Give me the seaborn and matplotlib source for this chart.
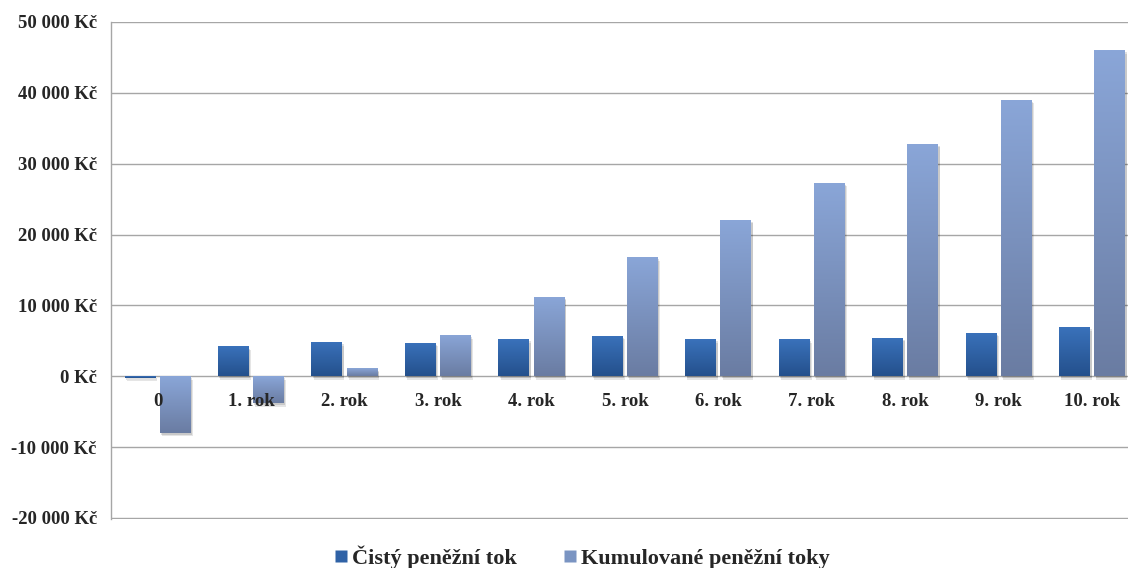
import numpy as np
import pandas as pd
import matplotlib
matplotlib.use("Agg")
import matplotlib.pyplot as plt
import matplotlib.patheffects as pe
from matplotlib.colors import LinearSegmentedColormap
from matplotlib.lines import Line2D
import seaborn as sns

# Data
years = ["0", "1. rok", "2. rok", "3. rok", "4. rok", "5. rok",
         "6. rok", "7. rok", "8. rok", "9. rok", "10. rok"]
net_flow = [-200, 4200, 4800, 4700, 5200, 5700, 5200, 5200, 5400, 6100, 6900]
cumulative = [-8000, -3800, 1100, 5800, 11200, 16800, 22100, 27300, 32800, 39000, 46000]
series_names = ["Čistý peněžní tok", "Kumulované peněžní toky"]
y_ticks = [-20000, -10000, 0, 10000, 20000, 30000, 40000, 50000]

df = pd.DataFrame({
    "rok": years * 2,
    "hodnota": net_flow + cumulative,
    "serie": [series_names[0]] * len(years) + [series_names[1]] * len(years),
})

sns.set_theme(style="white")
plt.rcParams["font.family"] = ["Liberation Serif", "DejaVu Serif"]
plt.rcParams["font.weight"] = "bold"

fig = plt.figure(figsize=(11.28, 5.68), dpi=100)
ax = fig.add_axes([110.75 / 1128, 1 - 519 / 568, (1139 - 110.75) / 1128, (519 - 22) / 568])

mid_colors = {series_names[0]: "#2f62a6", series_names[1]: "#7a94c2"}
sns.barplot(data=df, x="rok", y="hodnota", hue="serie", order=years,
            hue_order=series_names, palette=mid_colors, width=0.75, gap=0.12,
            legend=False, ax=ax, zorder=2)

# Vertical gradients (light at top, dark at bottom) for each series
gradients = [
    LinearSegmentedColormap.from_list("g0", ["#24508c", "#3a72bb"]),
    LinearSegmentedColormap.from_list("g1", ["#6a7ca2", "#8aa6d8"]),
]
grad = np.linspace(0, 1, 256).reshape(-1, 1)
for cont, cmap in zip(ax.containers, gradients):
    for bar in cont:
        x0, y0 = bar.get_x(), bar.get_y()
        w, h = bar.get_width(), bar.get_height()
        ylo, yhi = min(y0, y0 + h), max(y0, y0 + h)
        bar.set_facecolor("none")
        bar.set_edgecolor("none")
        bar.set_path_effects([
            pe.SimplePatchShadow(offset=(1.5, -2.5), shadow_rgbFace="#000000", alpha=0.10),
            pe.SimplePatchShadow(offset=(1.0, -1.5), shadow_rgbFace="#000000", alpha=0.12),
        ])
        im = ax.imshow(grad, extent=[x0, x0 + w, ylo, yhi], origin="lower",
                       cmap=cmap, aspect="auto", zorder=3, interpolation="bilinear")
        im.set_clip_path(bar)

ax.set_xlim(-0.5, len(years) - 0.5)
ax.set_ylim(-20150, 50000)
ax.set_yticks(y_ticks)
ax.set_yticklabels([f"{v:,.0f}".replace(",", " ") + " Kč" for v in y_ticks],
                   fontsize=13.5, fontweight="bold")
ax.tick_params(axis="y", length=0, pad=10)
ax.set_xticks([])
ax.set_xlabel("")
ax.set_ylabel("")

ax.grid(axis="y", color="#a6a6a6", linewidth=1.0, zorder=0)
ax.set_axisbelow(True)
for side in ["top", "right", "bottom"]:
    ax.spines[side].set_visible(False)
ax.spines["left"].set_color("#a6a6a6")
ax.spines["left"].set_linewidth(1.0)

# Category labels just below the zero line
for i, name in enumerate(years):
    ax.text(i, -3500, name, ha="center", va="center", fontsize=13.5,
            fontweight="bold", zorder=5)

handles = [Line2D([], [], marker="s", linestyle="none", markersize=8.5,
                  markerfacecolor=mid_colors[s], markeredgecolor="none") for s in series_names]
fig.legend(handles, series_names, loc="center", bbox_to_anchor=(0.515, 1 - 557 / 568),
           ncol=2, frameon=False, prop={"size": 16, "weight": "bold"},
           handletextpad=0.1, columnspacing=2.0, handlelength=0.8)

fig.savefig("out.png", dpi=100, facecolor="white")
